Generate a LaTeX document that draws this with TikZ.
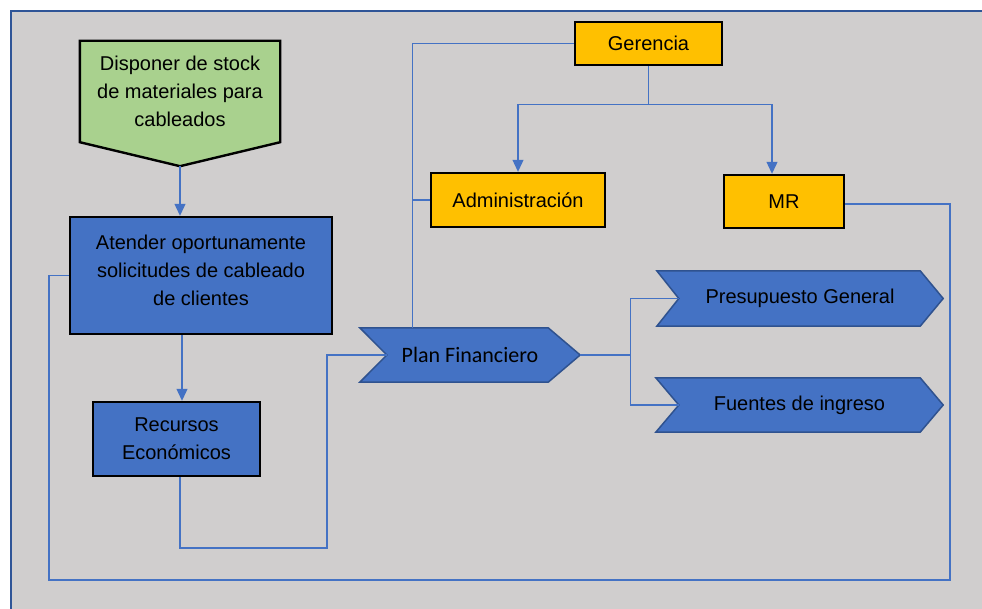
\documentclass[tikz,border=0pt]{standalone}
\usepackage{fontspec}
\setmainfont{Liberation Sans}
\newfontfamily\calibrifont{Carlito}
\usetikzlibrary{arrows.meta,calc}
\definecolor{paneGray}{HTML}{D0CECE}
\definecolor{frameBlue}{HTML}{2F5597}
\definecolor{boxBlue}{HTML}{4472C4}
\definecolor{edgeBlue}{HTML}{2F528F}
\definecolor{leafGreen}{HTML}{A9D18E}
\definecolor{goldFill}{HTML}{FFC000}
\pgfdeclarelayer{back}
\pgfdeclarelayer{mid}
\pgfsetlayers{back,mid,main}

\begin{document}
\begin{tikzpicture}[x=1pt,y=-1pt,
  txt/.style={font=\fontsize{20}{28}\selectfont, align=center, text=black, inner sep=0pt},
  solidbox/.style={txt, draw=black, line width=2.4pt},
  bluebox/.style={solidbox, fill=boxBlue},
  goldbox/.style={solidbox, fill=goldFill},
  chevtext/.style={txt},
  wire/.style={draw=boxBlue, line width=1.1pt},
  flowarrow/.style={wire, -{Triangle[width=11pt,length=12pt]}},
  chevshape/.style={fill=boxBlue, draw=edgeBlue, line width=1.5pt, line join=miter},
]
\useasboundingbox (0,0) rectangle (982,609);

% page and frame
\begin{pgfonlayer}{back}
  \fill[white] (0,0) rectangle (982,609);
  \fill[paneGray] (11,11) rectangle (982,609);
  \draw[frameBlue, line width=2.5pt] (11,609) -- (11,11) -- (982,11);
\end{pgfonlayer}

% boxes
\node[txt, minimum width=200pt, minimum height=101pt] (disp) at (180,91.5)
  {Disponer de stock\\de materiales para\\cableados};
\node[bluebox, minimum width=262pt, minimum height=117pt, text depth=10pt] (att) at (201,275.5)
  {Atender oportunamente\\solicitudes de cableado\\de clientes};
\node[bluebox, minimum width=167pt, minimum height=74pt] (rec) at (176.5,439)
  {Recursos\\Económicos};
\node[goldbox, minimum width=147pt, minimum height=43pt] (ger) at (648.5,43.5) {Gerencia};
\node[goldbox, minimum width=174pt, minimum height=54pt] (adm) at (518,200) {Administración};
\node[goldbox, minimum width=120pt, minimum height=53pt] (mr) at (784,201.5) {MR};

% chevron labels
\node[chevtext, font=\calibrifont\fontsize{22}{26}\selectfont, minimum width=220pt, minimum height=54pt] (pf) at (470,355) {Plan Financiero};
\node[chevtext, minimum width=286pt, minimum height=55pt] (pg) at (800,298.5) {Presupuesto General};
\node[chevtext, minimum width=287pt, minimum height=54pt] (fi) at (799.5,405) {Fuentes de ingreso};

% shaped outlines behind the labels
\begin{pgfonlayer}{mid}
  \draw[fill=leafGreen, draw=black, line width=2.4pt, line join=miter]
    (disp.north west) -- (disp.north east) -- (disp.south east)
    -- ($(disp.south)+(0,24)$) -- (disp.south west) -- cycle;
  \draw[chevshape] (pf.north west) -- ($(pf.north east)+(-32,0)$) -- (pf.east)
    -- ($(pf.south east)+(-32,0)$) -- (pf.south west) -- ($(pf.west)+(27,0)$) -- cycle;
  \draw[chevshape] (pg.north west) -- ($(pg.north east)+(-23,0)$) -- (pg.east)
    -- ($(pg.south east)+(-23,0)$) -- (pg.south west) -- ($(pg.west)+(22,0)$) -- cycle;
  \draw[chevshape] (fi.north west) -- ($(fi.north east)+(-23,0)$) -- (fi.east)
    -- ($(fi.south east)+(-23,0)$) -- (fi.south west) -- ($(fi.west)+(23,0)$) -- cycle;
\end{pgfonlayer}

% connection points
\coordinate (dispTip) at ($(disp.south)+(0,24)$);
\coordinate (recIn) at ($(rec.north)+(5.5,0)$);
\coordinate (lowBend) at (327,548);
\coordinate (loopR) at (950,580);
\coordinate (loopL) at (49,580);
\coordinate (spineTop) at ($(pf.north west)+(53,0)$);
\coordinate (split) at ($(ger.south)+(0,38)$);
\coordinate (fork) at ($(pf.east)+(50,0)$);

% connectors
\draw[flowarrow] (dispTip) -- (dispTip |- att.north);
\draw[flowarrow] (att.south -| recIn) -- (recIn);
\draw[wire] ($(rec.south)+(3.5,0)$) |- (lowBend) |- ($(pf.west)+(27,0)$);
\draw[wire] ($(mr.east)+(0,2.5)$) -| (loopR) -- (loopL) |- (att.west);
\draw[wire] (ger.west) -| (spineTop);
\draw[wire] (spineTop |- adm.west) -- (adm.west);
\draw[flowarrow] (ger.south) -- (split) -| (adm.north);
\draw[flowarrow] (split) -| ($(mr.north)+(-12,0)$);
\draw[wire] (pf.east) -- (fork);
\draw[wire] (fork) |- ($(pg.west)+(22,0)$);
\draw[wire] (fork) |- ($(fi.west)+(23,0)$);
\end{tikzpicture}
\end{document}
